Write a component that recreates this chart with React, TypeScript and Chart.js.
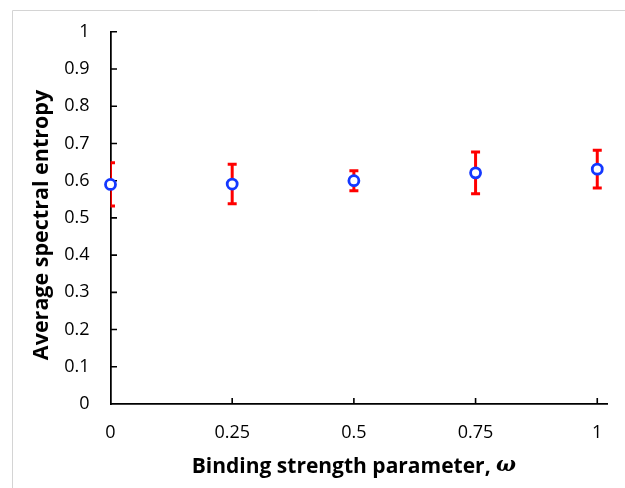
import React, { useEffect, useRef } from "react";
import { Chart, registerables } from "chart.js";

Chart.register(...registerables);

const omegaValues = [0, 0.25, 0.5, 0.75, 1];
const entropyMeans = [0.59, 0.591, 0.6, 0.621, 0.631];
const entropyErrors = [0.058, 0.053, 0.027, 0.056, 0.051];
const xTickValues = [0, 0.25, 0.5, 0.75, 1];
const xTitleMain = "Binding strength parameter, ";
const xTitleSymbol = "\u03c9";
const yTitle = "Average spectral entropy";

const FONT = "'Open Sans', 'DejaVu Sans', sans-serif";

const fmt = (v: number) => String(Number(Number(v).toFixed(2)));

const decorPlugin = {
  id: "decor",
  beforeDraw(chart: any) {
    const ctx = chart.ctx;
    ctx.save();
    ctx.strokeStyle = "#d4d4d4";
    ctx.lineWidth = 1;
    ctx.beginPath();
    ctx.moveTo(12.5, chart.height);
    ctx.lineTo(12.5, 10.5);
    ctx.lineTo(chart.width, 10.5);
    ctx.stroke();
    ctx.restore();
  },
  beforeDatasetsDraw(chart: any) {
    const ctx = chart.ctx;
    const xs = chart.scales.x;
    const ys = chart.scales.y;
    const area = chart.chartArea;
    ctx.save();
    ctx.strokeStyle = "#000";
    ctx.lineWidth = 1.6;
    ctx.beginPath();
    xs.ticks.forEach((t: any) => {
      const px = xs.getPixelForValue(t.value);
      if (px <= area.left + 1) return;
      ctx.moveTo(px, area.bottom);
      ctx.lineTo(px, area.bottom - 6);
    });
    ys.ticks.forEach((t: any) => {
      const py = ys.getPixelForValue(t.value);
      if (py >= area.bottom - 1) return;
      ctx.moveTo(area.left, py);
      ctx.lineTo(area.left + 6.5, py);
    });
    ctx.stroke();

    ctx.beginPath();
    ctx.rect(area.left, 0, chart.width - area.left, area.bottom);
    ctx.clip();
    ctx.strokeStyle = "#ff0000";
    ctx.lineWidth = 3;
    ctx.beginPath();
    omegaValues.forEach((xv, i) => {
      const px = xs.getPixelForValue(xv);
      const top = ys.getPixelForValue(entropyMeans[i] + entropyErrors[i]);
      const bot = ys.getPixelForValue(entropyMeans[i] - entropyErrors[i]);
      ctx.moveTo(px, top);
      ctx.lineTo(px, bot);
      ctx.moveTo(px - 4.5, top);
      ctx.lineTo(px + 4.5, top);
      ctx.moveTo(px - 4.5, bot);
      ctx.lineTo(px + 4.5, bot);
    });
    ctx.stroke();
    ctx.restore();
  },
  afterDraw(chart: any) {
    const ctx = chart.ctx;
    const area = chart.chartArea;
    ctx.save();
    ctx.fillStyle = "#000";
    ctx.textBaseline = "middle";
    const mainFont = `bold 21px ${FONT}`;
    const symFont = `italic bold 21px 'DejaVu Serif', serif`;
    ctx.font = mainFont;
    const w1 = ctx.measureText(xTitleMain).width;
    ctx.font = symFont;
    const w2 = ctx.measureText(xTitleSymbol).width;
    const cx = (area.left + chart.scales.x.getPixelForValue(1)) / 2;
    const sx = cx - (w1 + w2) / 2;
    ctx.textAlign = "left";
    ctx.font = mainFont;
    ctx.fillText(xTitleMain, sx, 467);
    ctx.font = symFont;
    ctx.fillText(xTitleSymbol, sx + w1, 466);
    ctx.translate(42, 225);
    ctx.rotate(-Math.PI / 2);
    ctx.font = `bold 21.5px ${FONT}`;
    ctx.textAlign = "center";
    ctx.fillText(yTitle, 0, 0);
    ctx.restore();
  },
};

export default function App() {
  const ref = useRef<HTMLCanvasElement | null>(null);
  useEffect(() => {
    document.body.style.margin = "0";
    if (!ref.current) return;
    const chart = new Chart(ref.current, {
      type: "scatter",
      data: {
        datasets: [
          {
            data: omegaValues.map((x, i) => ({ x, y: entropyMeans[i] })),
            showLine: false,
            pointRadius: 5,
            pointBorderWidth: 2.8,
            pointBorderColor: "#1438ff",
            pointBackgroundColor: "#ffffff",
            clip: false as any,
          },
        ],
      },
      options: {
        animation: false,
        responsive: false,
        layout: { padding: { top: 29, right: 18, left: 0, bottom: 0 } },
        plugins: {
          legend: { display: false },
          tooltip: { enabled: false },
        },
        scales: {
          x: {
            type: "linear",
            min: 0,
            max: 1.02,
            afterBuildTicks: (scale: any) => {
              scale.ticks = xTickValues.map((v) => ({ value: v }));
            },
            afterFit: (scale: any) => {
              scale.height = 84;
            },
            grid: { display: true, drawOnChartArea: false, drawTicks: false },
            border: { display: true, color: "#000", width: 1.75 },
            ticks: {
              padding: 18,
              color: "#000",
              font: { family: FONT, size: 18 },
              callback: (v: any) => fmt(v),
            },
          },
          y: {
            min: 0,
            max: 1,
            afterFit: (scale: any) => {
              scale.width = 110.5;
            },
            grid: { display: true, drawOnChartArea: false, drawTicks: false },
            border: { display: true, color: "#000", width: 1.75 },
            ticks: {
              stepSize: 0.1,
              padding: 21,
              color: "#000",
              font: { family: FONT, size: 18 },
              callback: (v: any) => fmt(v),
            },
          },
        },
      },
      plugins: [decorPlugin],
    });
    return () => chart.destroy();
  }, []);
  return (
    <div style={{ width: 625, height: 488 }}>
      <canvas ref={ref} width={625} height={488} />
    </div>
  );
}
